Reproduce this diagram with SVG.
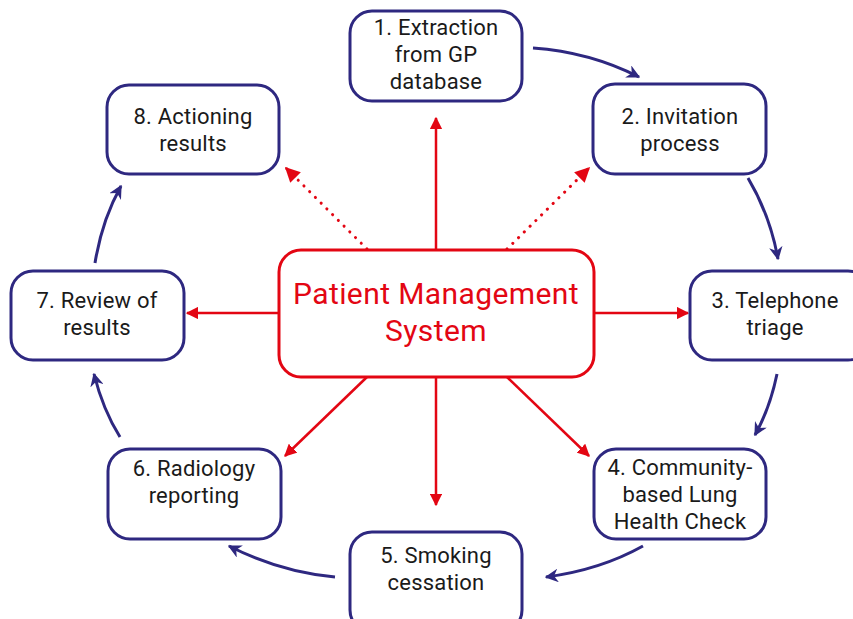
<svg xmlns="http://www.w3.org/2000/svg" width="853" height="619" viewBox="0 0 853 619">
<style>
.node rect{fill:#fff;stroke:#2e2880;stroke-width:3}
.node text{font-family:Roboto,"Liberation Sans",sans-serif;font-size:22px;letter-spacing:0.2px;fill:#1a1a1a;text-anchor:middle}
.center rect{fill:#fff;stroke:#e30613;stroke-width:3}
.center text{font-family:Roboto,"Liberation Sans",sans-serif;font-size:30px;letter-spacing:0.4px;fill:#e30613;text-anchor:middle}
.red{stroke:#e30613;stroke-width:2.5;fill:none;marker-end:url(#ra)}
.dot{stroke:#e30613;stroke-width:3;fill:none;stroke-dasharray:0.1 8;stroke-linecap:round;marker-end:url(#ra)}
.blue{stroke:#2e2880;stroke-width:3;fill:none;marker-end:url(#ba)}
</style>
<defs>
<marker id="ra" viewBox="0 0 10 10" refX="9" refY="5" markerWidth="5" markerHeight="5" markerUnits="strokeWidth" orient="auto"><path d="M0,0L10,5L0,10z" fill="#e30613"/></marker>
<marker id="ba" viewBox="0 0 10 10" refX="9" refY="5" markerWidth="4.5" markerHeight="4.5" markerUnits="strokeWidth" orient="auto"><path d="M0,0L10,5L0,10L3,5z" fill="#2e2880"/></marker>
</defs>
<rect width="853" height="619" fill="#fff"/>
<g id="connectors">
<line class="red" x1="436" y1="250" x2="436" y2="118"/>
<line class="red" x1="594" y1="313" x2="688" y2="313"/>
<line class="red" x1="279" y1="313" x2="187" y2="313"/>
<line class="red" x1="436" y1="377" x2="436" y2="505"/>
<line class="red" x1="367" y1="377" x2="285" y2="456"/>
<line class="red" x1="507" y1="377" x2="589" y2="456"/>
<line class="dot" x1="367" y1="249" x2="286" y2="168"/>
<line class="dot" x1="507" y1="249" x2="589" y2="168"/>
<path class="blue" d="M533,48 Q590,52 639,77"/>
<path class="blue" d="M748,178 Q770,215 778,259"/>
<path class="blue" d="M777,374 Q770,408 755,435"/>
<path class="blue" d="M643,546 Q600,570 546,577"/>
<path class="blue" d="M335,577 Q280,572 229,546"/>
<path class="blue" d="M120,437 Q103,410 94,374"/>
<path class="blue" d="M95,263 Q102,220 121,186"/>
</g>
<g id="center" class="center">
<rect x="279" y="250" width="315" height="127" rx="22"/>
<text x="436" y="304">Patient Management</text>
<text x="436" y="341">System</text>
</g>
<g id="n1" class="node"><rect x="350" y="11" width="172" height="90" rx="22"/>
<text x="436" y="35">1. Extraction</text><text x="436" y="62">from GP</text><text x="436" y="89">database</text></g>
<g id="n2" class="node"><rect x="593" y="84" width="173" height="90" rx="22"/>
<text x="680" y="124">2. Invitation</text><text x="680" y="151">process</text></g>
<g id="n3" class="node"><rect x="690" y="271" width="180" height="89" rx="22"/>
<text x="775" y="308">3. Telephone</text><text x="775" y="335">triage</text></g>
<g id="n4" class="node"><rect x="594" y="449" width="172" height="90" rx="22"/>
<text x="680" y="475">4. Community-</text><text x="680" y="502">based Lung</text><text x="680" y="529">Health Check</text></g>
<g id="n5" class="node"><rect x="350" y="532" width="172" height="100" rx="22"/>
<text x="436" y="563">5. Smoking</text><text x="436" y="590">cessation</text></g>
<g id="n6" class="node"><rect x="108" y="449" width="173" height="90" rx="22"/>
<text x="194" y="476">6. Radiology</text><text x="194" y="503">reporting</text></g>
<g id="n7" class="node"><rect x="11" y="271" width="173" height="89" rx="22"/>
<text x="97" y="308">7. Review of</text><text x="97" y="335">results</text></g>
<g id="n8" class="node"><rect x="107" y="85" width="172" height="89" rx="22"/>
<text x="193" y="124">8. Actioning</text><text x="193" y="151">results</text></g>
</svg>
